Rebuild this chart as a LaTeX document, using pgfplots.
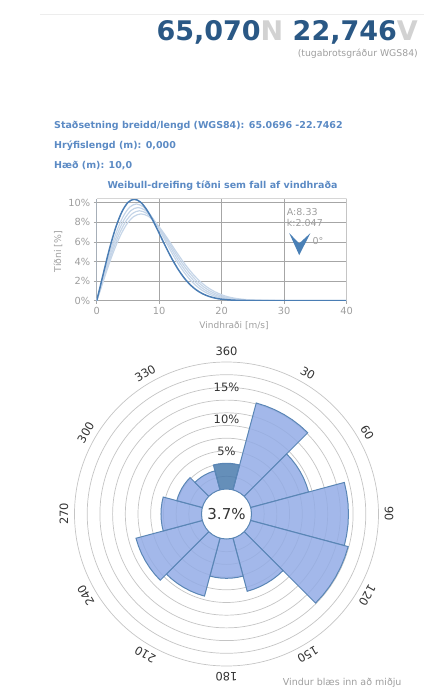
\documentclass[border=0pt]{standalone}
\usepackage{fontspec}
\setmainfont{DejaVu Sans}
\usepackage{pgfplots}
\pgfplotsset{compat=1.18}
\usepgfplotslibrary{polar}
\definecolor{hdrblue}{HTML}{2A5885}
\definecolor{hdrgray}{HTML}{D2D2D2}
\definecolor{infoblue}{HTML}{5B8AC4}
\definecolor{labgray}{HTML}{9E9E9E}
\definecolor{gridgray}{HTML}{A6A6A6}
\definecolor{bordergray}{HTML}{D6D6D6}
\definecolor{axisblue}{HTML}{A9C0DB}
\definecolor{mainblue}{HTML}{4A7DB4}
\definecolor{lightcurve}{HTML}{C5D5E8}
\definecolor{arrowblue}{HTML}{4A80B6}
\definecolor{sectorfill}{HTML}{93ACE6}
\definecolor{sectorN}{HTML}{4A7BAD}
\definecolor{sectorline}{HTML}{5A86B5}
\definecolor{ringgray}{HTML}{C4C4C4}
\definecolor{rosetext}{HTML}{333333}
\pgfplotsset{
  rose/.style={fill=sectorfill, fill opacity=0.85, draw=sectorline, line width=1pt, y filter/.expression={y+3.937}},
  light/.style={color=lightcurve, line width=1.2pt, smooth},
}
\begin{document}
\begin{tikzpicture}
\useasboundingbox (0,0) rectangle (424pt,694pt);
\draw[black!7, line width=1.5pt] (40pt,679.5pt) -- (424pt,679.5pt);
\node[anchor=base east, inner sep=0pt, font=\fontsize{27}{30}\selectfont\bfseries] at (418pt,653.3pt)
  {\textcolor{hdrblue}{65,070}\textcolor{hdrgray}{N} \textcolor{hdrblue}{22,746}\textcolor{hdrgray}{V}};
\node[anchor=base east, inner sep=0pt, font=\fontsize{9.3}{10}\selectfont, text=labgray] at (418pt,637.3pt) {(tugabrotsgráður WGS84)};
\node[anchor=base west, inner sep=0pt, font=\fontsize{9.5}{11}\selectfont\bfseries, text=infoblue] at (54pt,565pt) {Staðsetning breidd/lengd (WGS84): 65.0696 -22.7462};
\node[anchor=base west, inner sep=0pt, font=\fontsize{9.5}{11}\selectfont\bfseries, text=infoblue] at (54pt,545pt) {Hrýfislengd (m): 0,000};
\node[anchor=base west, inner sep=0pt, font=\fontsize{9.5}{11}\selectfont\bfseries, text=infoblue] at (54pt,525pt) {Hæð (m): 10,0};
\node[anchor=base, inner sep=0pt, font=\fontsize{9.5}{11}\selectfont\bfseries, text=infoblue] at (222.5pt,505.7pt) {Weibull-dreifing tíðni sem fall af vindhraða};

\begin{axis}[
  at={(96.7pt,393.3pt)}, anchor=south west,
  scale only axis, width=250pt, height=101.9pt,
  xmin=0, xmax=40, ymin=0, ymax=10.4,
  xtick={0,10,20,30,40}, ytick={0,2,4,6,8,10},
  yticklabel={\pgfmathprintnumber{\tick}\%},
  /pgf/number format/assume math mode=true,
  axis line style={draw=none},
  xmajorgrids, ymajorgrids,
  major grid style={color=gridgray, line width=0.8pt},
  tick align=outside, major tick length=3pt,
  tick style={color=gridgray, line width=0.6pt},
  xtick pos=left, ytick pos=left,
  ticklabel style={font=\fontsize{9.8}{11}\selectfont, text=labgray},
]
\addplot[light] coordinates {(0,0)(0.53,1.22)(1.06,2.49)(2.12,4.93)(3.18,7.03)(4.24,8.60)(5.3,9.56)(6.36,9.87)(7.42,9.59)(8.48,8.85)(9.54,7.79)(10.6,6.56)(11.66,5.30)(12.72,4.11)(13.78,3.08)(14.84,2.21)(15.9,1.53)(16.96,1.02)(18.02,0.66)(19.08,0.41)(20.14,0.25)(21.2,0.14)(23.32,0.05)(26.5,0.01)(30,0)(40,0)};
\addplot[light] coordinates {(0,0)(0.55,1.17)(1.1,2.40)(2.2,4.75)(3.3,6.77)(4.4,8.29)(5.5,9.21)(6.6,9.51)(7.7,9.25)(8.8,8.53)(9.9,7.51)(11,6.32)(12.1,5.11)(13.2,3.96)(14.3,2.96)(15.4,2.13)(16.5,1.47)(17.6,0.98)(18.7,0.64)(19.8,0.39)(20.9,0.24)(22,0.14)(24.2,0.05)(27.5,0.01)(31,0)(40,0)};
\addplot[light] coordinates {(0,0)(0.57,1.13)(1.14,2.32)(2.28,4.59)(3.42,6.54)(4.56,8.00)(5.7,8.89)(6.84,9.18)(7.98,8.92)(9.12,8.23)(10.26,7.25)(11.4,6.10)(12.54,4.93)(13.68,3.82)(14.82,2.86)(15.96,2.05)(17.1,1.42)(18.24,0.95)(19.38,0.61)(20.52,0.38)(21.66,0.23)(22.8,0.13)(25.08,0.04)(28.5,0.01)(32,0)(40,0)};
\addplot[light] coordinates {(0,0)(0.59,1.09)(1.18,2.24)(2.36,4.43)(3.54,6.31)(4.72,7.73)(5.9,8.58)(7.08,8.86)(8.26,8.62)(9.44,7.95)(10.62,7.00)(11.8,5.89)(12.98,4.76)(14.16,3.69)(15.34,2.76)(16.52,1.98)(17.7,1.37)(18.88,0.92)(20.06,0.59)(21.24,0.36)(22.42,0.22)(23.6,0.13)(25.96,0.04)(29.5,0.01)(33,0)(40,0)};
\addplot[color=mainblue, line width=1.5pt, smooth] coordinates {(0,0)(0.5,1.28)(1,2.61)(2,5.18)(3,7.38)(4,9.03)(5,10.03)(6,10.35)(7,10.07)(8,9.29)(9,8.18)(10,6.88)(11,5.56)(12,4.32)(13,3.23)(14,2.32)(15,1.60)(16,1.07)(17,0.69)(18,0.43)(19,0.26)(20,0.15)(22,0.05)(25,0.01)(30,0)(40,0)};
\addplot[fill=arrowblue, draw=none] coordinates {(30.8,6.9) (32.4,4.65) (34.2,6.9) (32.4,5.85)} -- cycle;
\draw[axisblue, line width=1pt] (rel axis cs:0,0) -- (rel axis cs:0,1);
\draw[bordergray, line width=0.8pt] (rel axis cs:0,1) -- (rel axis cs:1,1) -- (rel axis cs:1,0);
\end{axis}
\node[font=\fontsize{9}{10}\selectfont, text=labgray] at (234pt,368.3pt) {Vindhraði [m/s]};
\node[rotate=90, font=\fontsize{9.3}{10}\selectfont, text=labgray] at (58pt,442.3pt) {Tíðni [\%]};
\node[anchor=west, inner sep=0pt, font=\fontsize{9.5}{10}\selectfont, text=labgray] at (286.7pt,482.3pt) {A:8.33};
\node[anchor=west, inner sep=0pt, font=\fontsize{9.5}{10}\selectfont, text=labgray] at (286.7pt,470.7pt) {k:2.047};
\node[anchor=west, inner sep=0pt, font=\fontsize{9.5}{10}\selectfont, text=labgray] at (312.3pt,453.3pt) {0°};

\begin{polaraxis}[
  at={(226.5pt,180pt)}, anchor=center,
  scale only axis, width=304pt, height=304pt,
  xmin=0, xmax=360, ymin=0, ymax=23.937,
  xtick={0,30,...,330},
  xticklabels={90,60,30,360,330,300,270,240,210,180,150,120},
  xticklabel style={rotate=\tick-90, anchor=south, inner sep=0pt, yshift=6pt, font=\fontsize{11.5}{12}\selectfont, text=rosetext},
  ytick={5.937,7.937,9.937,11.937,13.937,15.937,17.937,19.937,21.937},
  yticklabels={},
  xmajorgrids=false, ymajorgrids=true,
  major grid style={color=ringgray, line width=0.7pt},
  separate axis lines,
  x axis line style={color=ringgray, line width=0.7pt},
  y axis line style={draw=none},
  major tick length=0pt,
  clip=false,
]
\addplot[rose] coordinates {(75,0)(75,14.16)(70,14.16)(65,14.16)(60,14.16)(55,14.16)(50,14.16)(45,14.16)(45,0)} -- cycle;
\addplot[rose] coordinates {(45,0)(45,9.45)(40,9.45)(35,9.45)(30,9.45)(25,9.45)(20,9.45)(15,9.45)(15,0)} -- cycle;
\addplot[rose] coordinates {(15,0)(15,15.27)(10,15.27)(5,15.27)(0,15.27)(355,15.27)(350,15.27)(345,15.27)(345,0)} -- cycle;
\addplot[rose] coordinates {(345,0)(345,15.9)(340,15.9)(335,15.9)(330,15.9)(325,15.9)(320,15.9)(315,15.9)(315,0)} -- cycle;
\addplot[rose] coordinates {(315,0)(315,8.66)(310,8.66)(305,8.66)(300,8.66)(295,8.66)(290,8.66)(285,8.66)(285,0)} -- cycle;
\addplot[rose] coordinates {(285,0)(285,6.19)(280,6.19)(275,6.19)(270,6.19)(265,6.19)(260,6.19)(255,6.19)(255,0)} -- cycle;
\addplot[rose] coordinates {(255,0)(255,9.45)(250,9.45)(245,9.45)(240,9.45)(235,9.45)(230,9.45)(225,9.45)(225,0)} -- cycle;
\addplot[rose] coordinates {(225,0)(225,10.82)(220,10.82)(215,10.82)(210,10.82)(205,10.82)(200,10.82)(195,10.82)(195,0)} -- cycle;
\addplot[rose] coordinates {(195,0)(195,6.38)(190,6.38)(185,6.38)(180,6.38)(175,6.38)(170,6.38)(165,6.38)(165,0)} -- cycle;
\addplot[rose] coordinates {(165,0)(165,4.17)(160,4.17)(155,4.17)(150,4.17)(145,4.17)(140,4.17)(135,4.17)(135,0)} -- cycle;
\addplot[rose] coordinates {(135,0)(135,3.1)(130,3.1)(125,3.1)(120,3.1)(115,3.1)(110,3.1)(105,3.1)(105,0)} -- cycle;
\addplot[rose, fill=sectorN] coordinates {(105,0)(105,4.05)(100,4.05)(95,4.05)(90,4.05)(85,4.05)(80,4.05)(75,4.05)(75,0)} -- cycle;
\node[circle, fill=white, draw=sectorline, line width=1pt, minimum size=50pt, inner sep=0pt, font=\fontsize{15}{16}\selectfont, text=rosetext] at (axis cs:0,0) {3.7\%};
\node[anchor=south, inner sep=1.5pt, font=\fontsize{11.5}{12}\selectfont, text=rosetext] at (axis cs:90,8.937) {5\%};
\node[anchor=south, inner sep=1.5pt, font=\fontsize{11.5}{12}\selectfont, text=rosetext] at (axis cs:90,13.937) {10\%};
\node[anchor=south, inner sep=1.5pt, font=\fontsize{11.5}{12}\selectfont, text=rosetext] at (axis cs:90,18.937) {15\%};
\end{polaraxis}
\node[anchor=base east, inner sep=0pt, font=\fontsize{9.5}{10}\selectfont, text=labgray] at (401.7pt,8.9pt) {Vindur blæs inn að miðju};
\end{tikzpicture}
\end{document}
